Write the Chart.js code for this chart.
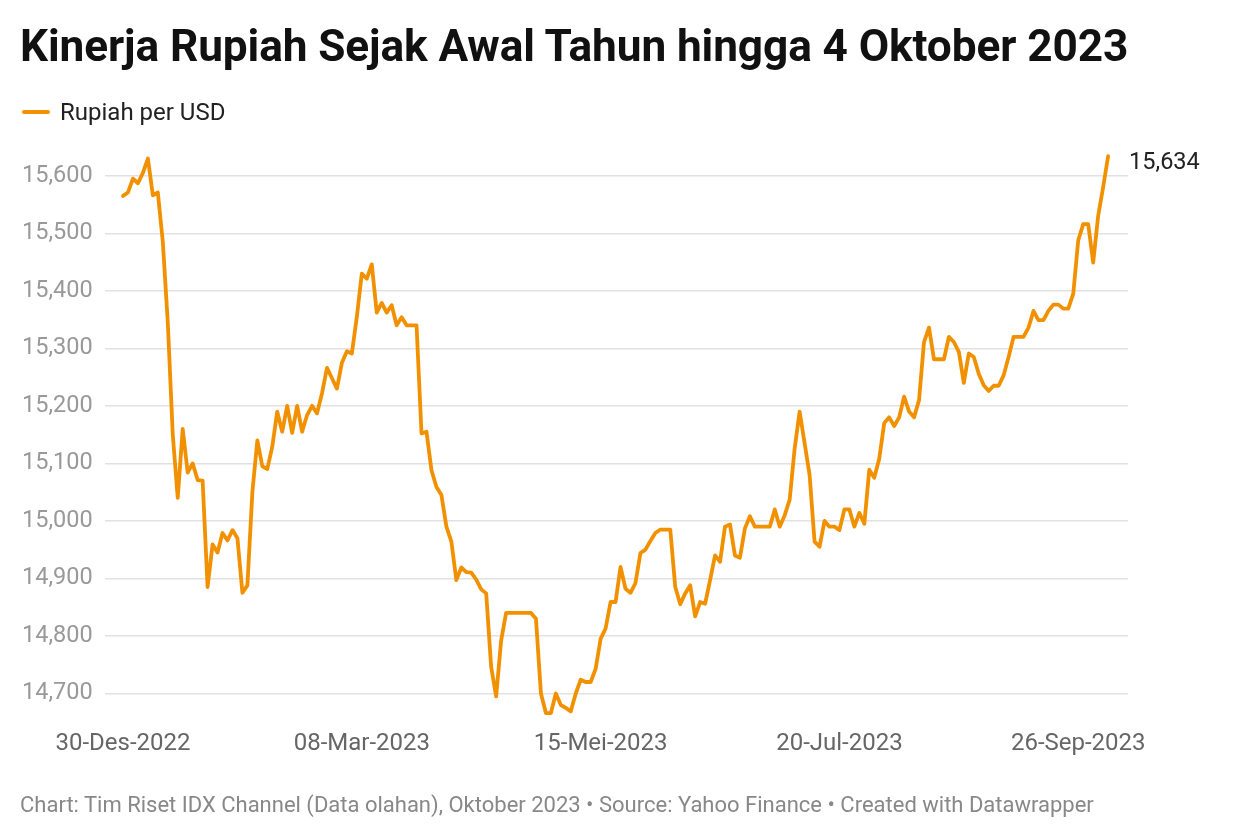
<!DOCTYPE html>
<html>
<head>
<meta charset="utf-8">
<script src="https://cdn.jsdelivr.net/npm/chart.js@4/dist/chart.umd.min.js"></script>
<style>
  html, body { margin: 0; padding: 0; background: #fff; }
  body { width: 1240px; height: 840px; position: relative; overflow: hidden; font-family: Roboto, "Noto Sans", sans-serif; }
  #title { position: absolute; left: 20px; top: 20px; font-size: 44.2px; font-weight: 700; color: #111; white-space: nowrap; letter-spacing: -0.1px; }
  #legend { position: absolute; left: 22px; top: 98px; font-size: 24px; color: #222; white-space: nowrap; display: flex; align-items: center; }
  #legend .sw { display: inline-block; width: 28px; height: 4px; background: #f29100; border-radius: 2px; margin-right: 10px; }
  #footer { position: absolute; left: 20px; top: 792px; font-size: 22px; color: #888; white-space: nowrap; }
  #wrap { position: absolute; left: 0; top: 0; width: 1240px; height: 840px; }
</style>
</head>
<body>
<div id="wrap"><canvas id="c" width="1240" height="840"></canvas></div>
<div id="title">Kinerja Rupiah Sejak Awal Tahun hingga 4 Oktober 2023</div>
<div id="legend"><span class="sw"></span>Rupiah per USD</div>
<div id="footer">Chart: Tim Riset IDX Channel (Data olahan), Oktober 2023 • Source: Yahoo Finance • Created with Datawrapper</div>
<script>
// Series: Rupiah per USD, one value per trading day, 30-Des-2022 .. 4-Okt-2023
const seriesName = 'Rupiah per USD';
const rupiah = [
  15565, 15571, 15595, 15587, 15605, 15630, 15566, 15571, 15485, 15345,
  15150, 15040, 15160, 15084, 15100, 15071, 15070, 14885, 14959, 14945,
  14979, 14966, 14984, 14970, 14875, 14888, 15050, 15140, 15095, 15090,
  15129, 15190, 15155, 15200, 15153, 15200, 15155, 15184, 15200, 15187,
  15222, 15266, 15248, 15230, 15275, 15295, 15291, 15355, 15430, 15421,
  15446, 15362, 15379, 15362, 15375, 15340, 15354, 15340, 15340, 15340,
  15152, 15155, 15088, 15059, 15045, 14990, 14964, 14897, 14919, 14911,
  14910, 14898, 14881, 14874, 14746, 14695, 14792, 14840, 14840, 14840,
  14840, 14840, 14840, 14830, 14700, 14666, 14666, 14700, 14680, 14675,
  14669, 14700, 14724, 14720, 14720, 14743, 14795, 14813, 14859, 14859,
  14920, 14882, 14875, 14892, 14944, 14950, 14965, 14979, 14985, 14985,
  14985, 14885, 14855, 14874, 14888, 14834, 14859, 14856, 14897, 14940,
  14929, 14990, 14994, 14940, 14936, 14987, 15008, 14990, 14990, 14990,
  14990, 15020, 14990, 15010, 15037, 15126, 15190, 15135, 15080, 14964,
  14955, 15000, 14990, 14990, 14984, 15020, 15020, 14990, 15014, 14995,
  15089, 15075, 15108, 15170, 15180, 15165, 15180, 15216, 15190, 15180,
  15210, 15311, 15336, 15281, 15281, 15281, 15320, 15311, 15294, 15240,
  15291, 15285, 15256, 15236, 15226, 15235, 15235, 15253, 15285, 15320,
  15320, 15320, 15336, 15365, 15349, 15349, 15365, 15376, 15376, 15369,
  15369, 15395, 15488, 15516, 15516, 15449, 15530, 15580, 15634
];
// x-axis tick labels and the trading-day positions they belong to
const tickLabels = ['30-Des-2022', '08-Mar-2023', '15-Mei-2023', '20-Jul-2023', '26-Sep-2023'];
const tickDays = [0, 48, 96, 144, 192];
// y-axis tick values
const yTicks = [14700, 14800, 14900, 15000, 15100, 15200, 15300, 15400, 15500, 15600];
const endLabel = '15,634';

const points = rupiah.map((v, i) => ({ x: i, y: v }));
const ORANGE = '#f29100';

const endLabelPlugin = {
  id: 'endLabel',
  afterDatasetsDraw(chart) {
    const { ctx, scales } = chart;
    const last = points.length - 1;
    const px = scales.x.getPixelForValue(points[last].x);
    const py = scales.y.getPixelForValue(points[last].y);
    ctx.save();
    ctx.font = '23.5px Roboto, "Noto Sans", sans-serif';
    ctx.fillStyle = '#222';
    ctx.textAlign = 'left';
    ctx.textBaseline = 'middle';
    ctx.fillText(endLabel, px + 21, py + 7);
    ctx.restore();
  }
};

new Chart(document.getElementById('c'), {
  type: 'line',
  data: {
    datasets: [{
      label: seriesName,
      data: points,
      borderColor: ORANGE,
      borderWidth: 3.8,
      pointRadius: 0,
      tension: 0,
      borderJoinStyle: 'round',
      borderCapStyle: 'round',
      clip: false
    }]
  },
  options: {
    responsive: false,
    animation: false,
    devicePixelRatio: 1,
    layout: { padding: { left: 22, right: 112, top: 147, bottom: 70 } },
    plugins: { legend: { display: false }, tooltip: { enabled: false }, title: { display: false } },
    scales: {
      x: {
        type: 'linear',
        min: -3.62,
        max: 202.0,
        afterBuildTicks(scale) { scale.ticks = tickDays.map(v => ({ value: v })); },
        afterFit(scale) { scale.height = 42; },
        ticks: {
          autoSkip: false,
          maxRotation: 0,
          padding: 2,
          color: '#666',
          font: { family: 'Roboto', size: 24 },
          callback(value) { const k = tickDays.indexOf(value); return k >= 0 ? tickLabels[k] : ''; }
        },
        grid: { display: false, drawTicks: false },
        border: { display: false }
      },
      y: {
        type: 'linear',
        min: 14640,
        max: 15650,
        afterBuildTicks(scale) { scale.ticks = yTicks.map(v => ({ value: v })); },
        afterFit(scale) { scale.width = 83; },
        ticks: {
          crossAlign: 'far',
          padding: 0,
          color: '#999',
          font: { family: 'Roboto', size: 23.5 },
          callback(value) { return value.toLocaleString('en-US'); }
        },
        grid: { color: '#e2e2e2', lineWidth: 1.5, drawTicks: false },
        border: { display: false }
      }
    }
  },
  plugins: [endLabelPlugin]
});
</script>
</body>
</html>
